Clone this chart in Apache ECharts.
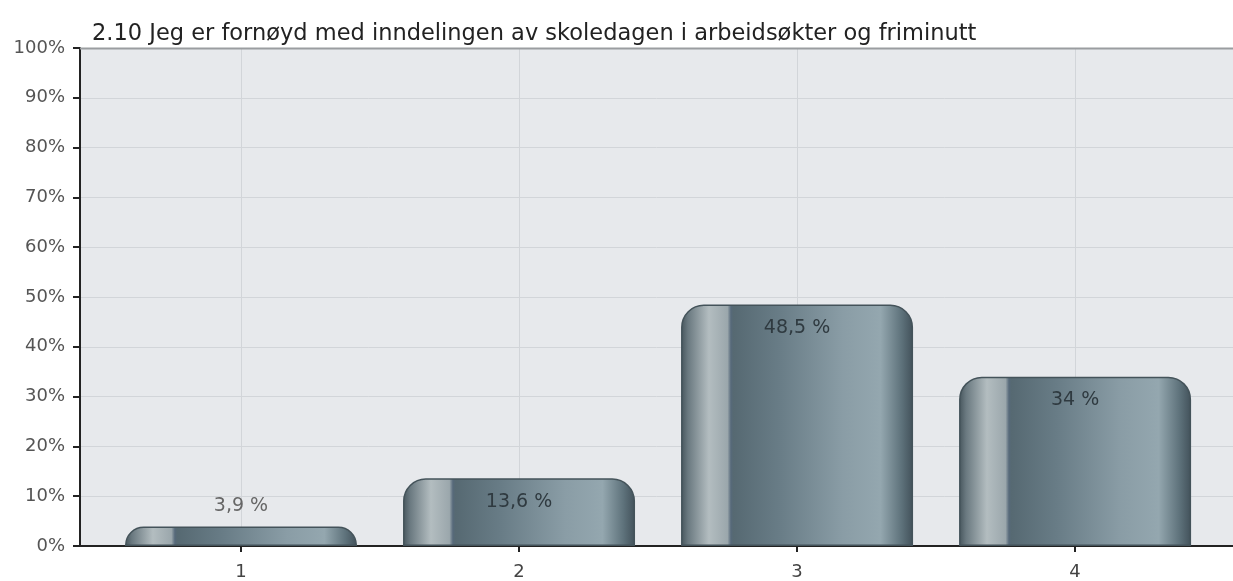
<!DOCTYPE html>
<html>
<head>
<meta charset="utf-8">
<script src="https://cdn.jsdelivr.net/npm/echarts@6/dist/echarts.min.js"></script>
<style>html,body{margin:0;padding:0;background:#fff;}#c{width:1233px;height:581px;}</style>
</head>
<body>
<div id="c"></div>
<script>
var title = '2.10 Jeg er fornøyd med inndelingen av skoledagen i arbeidsøkter og friminutt';
var categories = [1, 2, 3, 4];
var values = [3.9, 13.6, 48.5, 34];
var yTicks = [0, 10, 20, 30, 40, 50, 60, 70, 80, 90, 100];

function fmt(v) { return String(v).replace('.', ',') + ' %'; }
var FONT = 'DejaVu Sans, Verdana, sans-serif';

var barGrad = new echarts.graphic.LinearGradient(0, 0, 1, 0, [
  {offset: 0, color: '#46555c'},
  {offset: 0.03, color: '#6a7980'},
  {offset: 0.12, color: '#b3bdc0'},
  {offset: 0.2, color: '#9ba7ac'},
  {offset: 0.215, color: '#56697a'},
  {offset: 0.225, color: '#566972'},
  {offset: 0.42, color: '#687c86'},
  {offset: 0.70, color: '#8a9da6'},
  {offset: 0.86, color: '#94a7af'},
  {offset: 0.95, color: '#5e727b'},
  {offset: 1, color: '#42515a'}
]);

var data = categories.map(function (c, i) {
  var v = values[i];
  var small = v < 8;
  return {
    value: [c, v],
    label: small ? {position: 'top', distance: 11, color: '#666'} : {position: 'insideTop', distance: 14, color: '#2f3a40'}
  };
});

var chart = echarts.init(document.getElementById('c'), null, {renderer: 'canvas'});
chart.setOption({
  animation: false,
  backgroundColor: '#ffffff',
  title: {
    text: title, left: 87, top: 18,
    textStyle: {fontFamily: FONT, fontSize: 22.5, fontWeight: 'normal', color: '#222'}
  },
  grid: {left: 80, right: 0, top: 48, bottom: 35, show: true, backgroundColor: '#e7e9ec', borderWidth: 0},
  xAxis: {
    type: 'value',
    min: 0.4209, max: 4.568,
    axisLine: {show: true, onZero: false, lineStyle: {color: '#222', width: 2}},
    axisTick: {show: true, length: 6, lineStyle: {color: '#222', width: 2}, customValues: categories},
    axisLabel: {customValues: categories, margin: 17, fontFamily: FONT, fontSize: 18, color: '#444',
      formatter: function (v) { return String(v); }},
    splitLine: {show: true, lineStyle: {color: '#d2d5d9', width: 1}}
  },
  yAxis: [{
    type: 'value', min: 0, max: 100, interval: 10,
    axisLine: {show: true, lineStyle: {color: '#222', width: 2}},
    axisTick: {show: true, length: 7, lineStyle: {color: '#222', width: 2}},
    axisLabel: {margin: 15, fontFamily: FONT, fontSize: 18, color: '#555',
      formatter: function (v) { return v + '%'; }},
    splitLine: {show: true, lineStyle: {color: '#d2d5d9', width: 1}}
  }],
  series: [{
    type: 'bar',
    data: data,
    barWidth: 232,
    itemStyle: {color: barGrad, borderRadius: [22, 22, 0, 0], borderColor: '#44535a', borderWidth: 1.5},
    label: {show: true, fontFamily: FONT, fontSize: 19,
      formatter: function (p) { return fmt(p.value[1]); }}
  }],
  graphic: [{
    type: 'line', z: 10,
    shape: {x1: 80, y1: 48.5, x2: 1233, y2: 48.5},
    style: {stroke: '#9a9da0', lineWidth: 2}
  }]
});
</script>
</body>
</html>
